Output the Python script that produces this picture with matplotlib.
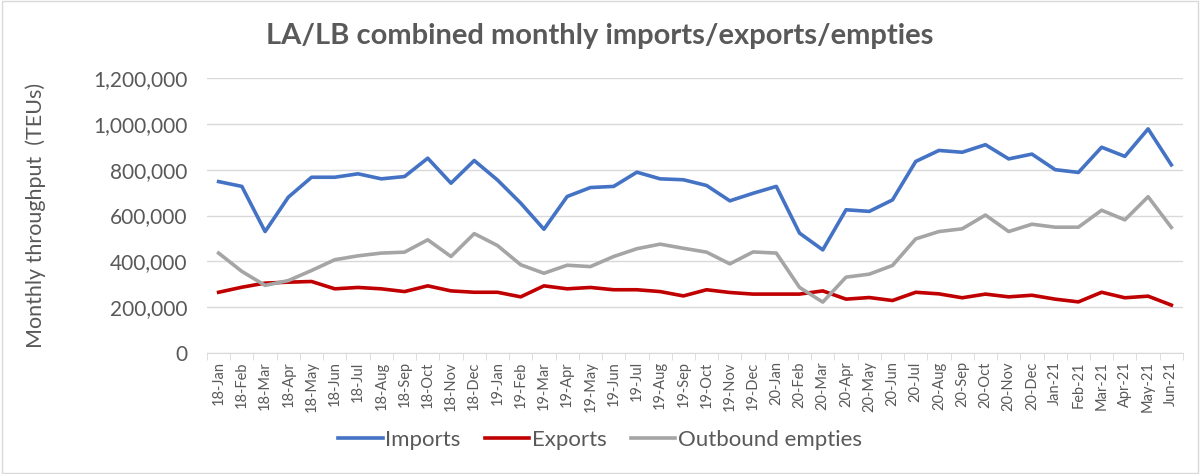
import matplotlib.pyplot as plt
from matplotlib.patches import Rectangle
from matplotlib.ticker import FuncFormatter

# month labels
months = ['18-Jan', '18-Feb', '18-Mar', '18-Apr', '18-May', '18-Jun', '18-Jul', '18-Aug',
          '18-Sep', '18-Oct', '18-Nov', '18-Dec', '19-Jan', '19-Feb', '19-Mar', '19-Apr',
          '19-May', '19-Jun', '19-Jul', '19-Aug', '19-Sep', '19-Oct', '19-Nov', '19-Dec',
          '20-Jan', '20-Feb', '20-Mar', '20-Apr', '20-May', '20-Jun', '20-Jul', '20-Aug',
          '20-Sep', '20-Oct', '20-Nov', '20-Dec', 'Jan-21', 'Feb-21', 'Mar-21', 'Apr-21',
          'May-21', 'Jun-21']

# TEUs
imports = [748000, 727000, 530000, 680000, 767000, 767000, 782000, 760000, 770000, 850000,
           741000, 840000, 755000, 654000, 540000, 683000, 722000, 727000, 789000, 760000,
           756000, 731000, 664000, 697000, 727000, 523000, 450000, 625000, 618000, 668000,
           836000, 884000, 876000, 909000, 847000, 868000, 800000, 788000, 898000, 858000,
           978000, 821000]
exports = [265000, 287000, 305000, 309000, 312000, 280000, 286000, 280000, 268000, 293000,
           271000, 265000, 265000, 245000, 293000, 280000, 286000, 276000, 276000, 268000,
           249000, 276000, 264000, 257000, 257000, 257000, 271000, 235000, 242000, 229000,
           265000, 258000, 241000, 257000, 245000, 252000, 235000, 223000, 265000, 241000,
           248000, 209000]
empties = [436000, 356000, 295000, 316000, 360000, 407000, 424000, 436000, 440000, 494000,
           421000, 521000, 469000, 385000, 348000, 383000, 377000, 421000, 455000, 475000,
           457000, 440000, 389000, 441000, 436000, 286000, 222000, 331000, 344000, 382000,
           498000, 530000, 542000, 602000, 530000, 562000, 549000, 549000, 623000, 581000,
           682000, 548000]

plt.rcParams['font.family'] = ['Lato', 'DejaVu Sans']
txt = '#595959'

fig = plt.figure(figsize=(12, 4.74), dpi=100)
ax = fig.add_axes([0.1725, 0.2553, 0.8133, 0.5801])

x = range(len(months))
ax.plot(x, imports, color='#4472C4', lw=2.6, label='Imports')
ax.plot(x, exports, color='#C00000', lw=2.6, label='Exports')
ax.plot(x, empties, color='#A5A5A5', lw=2.6, label='Outbound empties')

ax.set_xlim(-0.5, len(months) - 0.5)
ax.set_ylim(0, 1200000)
ax.set_yticks(range(0, 1200001, 200000))
ax.yaxis.set_major_formatter(FuncFormatter(lambda v, p: f'{int(v):,}'))
ax.grid(axis='y', color='#D9D9D9', lw=1)
ax.set_axisbelow(True)

ax.set_xticks(list(x))
ax.set_xticklabels(months, rotation=90, fontsize=10.5, color=txt)
ax.set_xticks([i - 0.5 for i in range(len(months) + 1)], minor=True)
ax.tick_params(axis='x', which='major', length=0, pad=6)
ax.tick_params(axis='x', which='minor', length=5, color='#D9D9D9')
ax.tick_params(axis='y', length=0, labelsize=15, labelcolor=txt, pad=14)

for s in ['top', 'right', 'left']:
    ax.spines[s].set_visible(False)
ax.spines['bottom'].set_color('#D9D9D9')

ax.set_ylabel('Monthly throughput  (TEUs)', fontsize=15.5, color=txt, labelpad=34)
fig.text(0.5, 0.925, 'LA/LB combined monthly imports/exports/empties', ha='center', va='center',
         fontsize=21, fontweight='bold', color=txt)

fig.legend(loc='center', bbox_to_anchor=(0.5, 0.072), ncol=3, frameon=False, fontsize=16,
           handlelength=2.0, handletextpad=0.1, columnspacing=1.1, labelcolor=txt)

fig.patches.append(Rectangle((0.002, 0.003), 0.996, 0.994, transform=fig.transFigure,
                             fill=False, edgecolor='#D9D9D9', lw=1))

fig.savefig('out.png', dpi=100)
